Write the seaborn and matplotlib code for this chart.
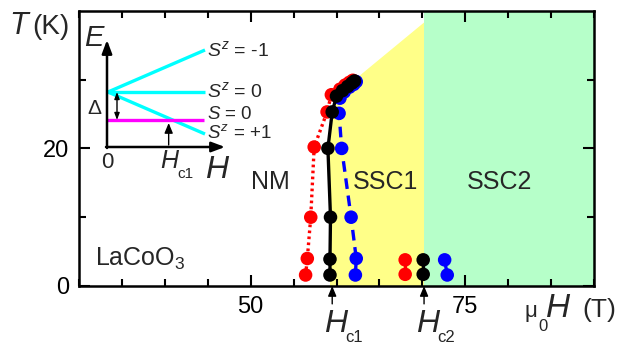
import numpy as np
import pandas as pd
import matplotlib
matplotlib.use("Agg")
import matplotlib.pyplot as plt
import seaborn as sns
from matplotlib.patches import Polygon

# ---------------- data ----------------
red_H = [56.4, 56.6, 57.0, 57.4, 58.9, 59.4, 60.4, 61.0, 61.5, 61.9]
red_T = [1.6, 4.0, 10.0, 20.2, 25.3, 27.8, 28.6, 29.2, 29.6, 29.9]
black_H = [59.24, 59.24, 59.3, 59.0, 59.5, 60.0, 60.7, 61.3, 61.8, 62.1]
black_T = [1.6, 3.9, 10.0, 20.0, 25.3, 27.6, 28.4, 29.0, 29.5, 29.8]
blue_H = [62.2, 62.3, 61.7, 60.6, 60.3, 60.4, 60.9, 61.5, 62.0, 62.3]
blue_T = [1.6, 4.0, 10.0, 20.0, 25.1, 27.3, 28.2, 28.9, 29.3, 29.7]

red2_H = [68.0, 68.0]
red2_T = [1.7, 3.8]
black2_H = [70.1, 70.1]
black2_T = [1.7, 3.8]
blue2_H = [72.9, 72.6]
blue2_T = [1.6, 3.8]

ssc1_H = [59.24, 59.3, 59.0, 59.5, 60.0, 70.2, 70.2]
ssc1_T = [0.0, 10.0, 20.0, 25.3, 27.8, 38.3, 0.0]
ssc2_H = [70.2, 70.2, 90.0, 90.0]
ssc2_T = [0.0, 40.0, 40.0, 0.0]

Hc1 = 59.5
Hc2 = 70.2

x_major = [50, 75]
x_minor = list(range(30, 91, 5))
y_major = [0, 20]
y_minor = [10, 30]

# inset schematic (energy levels)
inset_Sz = [-1, 0, 1]
triplet_E0 = 55.0
singlet_E = 27.0
zeeman = 42.0

# ---------------- style ----------------
sns.set_style("ticks")
plt.rcParams["font.family"] = ["Liberation Sans", "DejaVu Sans"]
plt.rcParams["mathtext.fontset"] = "custom"
plt.rcParams["mathtext.rm"] = "Liberation Sans"
plt.rcParams["mathtext.it"] = "Liberation Sans:italic"

fig = plt.figure(figsize=(6.24, 3.45), dpi=100)
ax = fig.add_axes([79 / 624, 1 - 286 / 345, (594 - 79) / 624, (286 - 10.8) / 345])
ax.set_xlim(30, 90)
ax.set_ylim(0, 40)

ax.add_patch(Polygon(np.column_stack([ssc1_H, ssc1_T]), closed=True,
                     facecolor="#FFFF88", edgecolor="none", zorder=0))
ax.add_patch(Polygon(np.column_stack([ssc2_H, ssc2_T]), closed=True,
                     facecolor="#B6FFC9", edgecolor="none", zorder=0))

ms = 95
lw = 2.4
series = [
    (red_H, red_T, red2_H, red2_T, "#FF0000", (0, (0.8, 1.0))),
    (blue_H, blue_T, blue2_H, blue2_T, "#0000FF", (0, (3.2, 2.0))),
    (black_H, black_T, black2_H, black2_T, "#000000", "-"),
]
for i, (h, t, h2, t2, c, ls) in enumerate(series):
    for hh, tt in ((h, t), (h2, t2)):
        df = pd.DataFrame({"H": hh, "T": tt})
        sns.lineplot(data=df, x="H", y="T", sort=False, estimator=None, color=c,
                     lw=lw, linestyle=ls, ax=ax, zorder=2 + i, legend=False)
        sns.scatterplot(data=df, x="H", y="T", color=c, s=ms, edgecolor="none",
                        linewidth=0, ax=ax, zorder=2.5 + i, legend=False)

ax.set_xlabel("")
ax.set_ylabel("")
ax.set_xticks(x_major)
ax.set_xticks(x_minor, minor=True)
ax.set_yticks(y_major)
ax.set_yticks(y_minor, minor=True)
ax.set_xticklabels([str(v) for v in x_major])
ax.set_yticklabels([str(v) for v in y_major])
ax.tick_params(which="both", direction="in", top=True, right=True, width=1.5,
               labelsize=17, colors="black")
ax.tick_params(which="major", length=8, pad=7)
ax.tick_params(which="minor", length=5)
for s in ax.spines.values():
    s.set_linewidth(1.8)
    s.set_color("black")

px_per_T = (594 - 79) / 60.0
px_per_K = (286 - 10.8) / 40.0


def hx(px):
    return 30 + (px - 79) / px_per_T


def ty(py):
    return (286 - py) / px_per_K


# region labels
ax.text(hx(270), ty(182), "NM", ha="center", va="center", fontsize=18)
ax.text(hx(386), ty(182), "SSC1", ha="center", va="center", fontsize=18)
ax.text(hx(500), ty(182), "SSC2", ha="center", va="center", fontsize=18)
ax.text(hx(95), ty(259), r"LaCoO$_3$", ha="left", va="center", fontsize=18)

# Hc arrows below axis
for hc in (Hc1, Hc2):
    ax.annotate("", xy=(hc, 0), xytext=(hc, -2.6), xycoords="data",
                annotation_clip=False,
                arrowprops=dict(arrowstyle="-|>,head_length=0.6,head_width=0.25",
                                color="black", lw=1.0, shrinkA=0, shrinkB=0))

# ---------------- overlay in pixel coords ----------------
ov = fig.add_axes([0, 0, 1, 1], zorder=5)
ov.set_xlim(0, 624)
ov.set_ylim(345, 0)
ov.axis("off")
ov.patch.set_alpha(0)

# axis titles
ov.text(9, 34, "T", fontsize=22, style="italic", va="baseline", ha="left")
ov.text(32, 34, "(K)", fontsize=20, va="baseline", ha="left")
ov.text(525, 317, "\u03bc", fontsize=16, va="baseline", ha="left")
ov.text(538, 331, "0", fontsize=12, va="baseline", ha="left")
ov.text(546, 317, "H", fontsize=24, style="italic", va="baseline", ha="left")
ov.text(582, 317, "(T)", fontsize=19, va="baseline", ha="left")
for xh, sub in ((324, "c1"), (416, "c2")):
    ov.text(xh, 332, "H", fontsize=23, style="italic", va="baseline", ha="left")
    ov.text(xh + 21, 342, sub, fontsize=12, va="baseline", ha="left")

# inset schematic
x0, y0, hunit = 107.0, 147.0, 97.0
hs = np.array([0.0, 1.0])
for sz in inset_Sz:
    ov.plot(x0 + 1 + hs * hunit, y0 - (triplet_E0 - sz * zeeman * hs), color="#00FFFF",
            lw=2.4, solid_capstyle="butt")
ov.plot(x0 + hs * hunit, [y0 - singlet_E] * 2, color="#FF00FF", lw=2.4,
        solid_capstyle="butt")
ov.annotate("", xy=(x0, 40), xytext=(x0, y0 + 1),
            arrowprops=dict(arrowstyle="-|>,head_length=0.8,head_width=0.3",
                            color="black", lw=1.8, shrinkA=0, shrinkB=0))
ov.annotate("", xy=(225, y0), xytext=(x0 - 1, y0),
            arrowprops=dict(arrowstyle="-|>,head_length=0.8,head_width=0.3",
                            color="black", lw=1.8, shrinkA=0, shrinkB=0))
ov.annotate("", xy=(117, y0 - singlet_E), xytext=(117, y0 - triplet_E0),
            arrowprops=dict(arrowstyle="<|-|>,head_length=0.4,head_width=0.15",
                            color="black", lw=1.0, shrinkA=0, shrinkB=0))
hc_inset = (triplet_E0 - singlet_E) / zeeman
ov.annotate("", xy=(x0 + hc_inset * hunit - 3, y0 - singlet_E + 3),
            xytext=(x0 + hc_inset * hunit - 3, y0 - 2),
            arrowprops=dict(arrowstyle="-|>,head_length=0.6,head_width=0.25",
                            color="black", lw=1.0, shrinkA=0, shrinkB=0))
ov.text(84, 46, "E", fontsize=21, style="italic", va="baseline", ha="left")
ov.text(94, 108, "\u0394", fontsize=15, va="center", ha="center")
ov.text(107, 168, "0", fontsize=16, va="baseline", ha="center")
ov.text(160, 168, "H", fontsize=18, style="italic", va="baseline", ha="left")
ov.text(177, 178, "c1", fontsize=11, va="baseline", ha="left")
ov.text(205, 178, "H", fontsize=23, style="italic", va="baseline", ha="left")
ov.text(207, 56, r"$S^{z}$ = -1", fontsize=14, va="baseline", ha="left")
ov.text(207, 97, r"$S^{z}$ = 0", fontsize=14, va="baseline", ha="left")
ov.text(207, 119, r"$S$ = 0", fontsize=13.5, va="baseline", ha="left")
ov.text(207, 138, r"$S^{z}$ = +1", fontsize=13.5, va="baseline", ha="left")

fig.savefig("out.png", dpi=100)
